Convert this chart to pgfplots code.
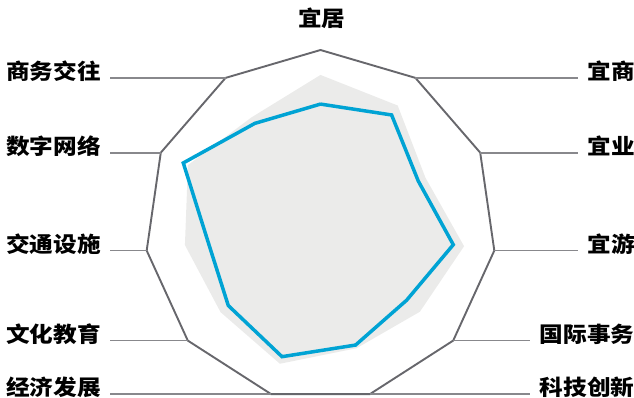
\documentclass[border=0pt]{standalone}
\usepackage{fontspec}
\usepackage{pgfplots}
\pgfplotsset{compat=1.18}
\usepgfplotslibrary{polar}
\usetikzlibrary{calc}
\newfontfamily\cjk{Noto Sans CJK SC}
\definecolor{linecol}{HTML}{00A3D4}
\definecolor{areacol}{HTML}{EBEBEA}
\definecolor{framecol}{HTML}{67676C}
\definecolor{leadcol}{HTML}{88888C}

\begin{document}
\begin{tikzpicture}[
    lab/.style={font=\cjk\bfseries\fontsize{21.5bp}{22bp}\selectfont, inner sep=0pt, xscale=1.1, text=black},
    lead/.style={leadcol, line width=1.8bp},
]
\begin{polaraxis}[
    scale only axis,
    width=351.2bp, height=351.2bp,
    ymin=0, ymax=1,
    hide axis,
    clip=false,
]
% outer frame (11 axes, clockwise from top)
\addplot[framecol, line width=1.9bp, mark=none] coordinates {
    (90,1) (57.273,1) (24.545,1) (-8.182,1) (-40.909,1) (-73.636,1)
    (-106.364,1) (-139.091,1) (-171.818,1) (-204.545,1) (-237.273,1) (90,1)
};
% grey area
\addplot[draw=none, fill=areacol, mark=none] coordinates {
    (90,0.858) (57.273,0.813) (24.545,0.657) (-8.182,0.826) (-40.909,0.749) (-73.636,0.728)
    (-106.364,0.820) (-139.091,0.753) (-171.818,0.780) (-204.545,0.830) (-237.273,0.731) (90,0.858)
};
% blue line
\addplot[linecol, line width=3.5bp, mark=none] coordinates {
    (90,0.692) (57.273,0.749) (24.545,0.612) (-8.182,0.764) (-40.909,0.649) (-73.636,0.709)
    (-106.364,0.778) (-139.091,0.695) (-171.818,0.647) (-204.545,0.859) (-237.273,0.692) (90,0.692)
};
\coordinate (C) at (axis cs:0,0);
\coordinate (v1) at (axis cs:57.273,1);
\coordinate (v2) at (axis cs:24.545,1);
\coordinate (v3) at (axis cs:-8.182,1);
\coordinate (v4) at (axis cs:-40.909,1);
\coordinate (v5) at (axis cs:-73.636,1);
\coordinate (v6) at (axis cs:-106.364,1);
\coordinate (v7) at (axis cs:-139.091,1);
\coordinate (v8) at (axis cs:-171.818,1);
\coordinate (v9) at (axis cs:-204.545,1);
\coordinate (v10) at (axis cs:-237.273,1);
\end{polaraxis}

\coordinate (L) at ($(C)+(-210.5bp,0)$);
\coordinate (R1) at ($(C)+(257.5bp,0)$);
\coordinate (R2) at ($(C)+(209.5bp,0)$);

% leader lines
\foreach \v in {v6,v7,v8,v9,v10}
    \draw[lead] (\v) -- (\v -| L);
\foreach \v in {v1,v2,v3}
    \draw[lead] (\v) -- (\v -| R1);
\foreach \v in {v4,v5}
    \draw[lead] (\v) -- (\v -| R2);

% labels
\node[lab, anchor=base] at ($(C)+(1.2bp,198.6bp)$) {宜居};
\node[lab, anchor=base west] at ($(v1 -| R1)+(9.5bp,-1.5bp)$) {宜商};
\node[lab, anchor=base west] at ($(v2 -| R1)+(9.5bp,-1.5bp)$) {宜业};
\node[lab, anchor=base west] at ($(v3 -| R1)+(9.5bp,-1.5bp)$) {宜游};
\node[lab, anchor=base west] at ($(v4 -| R2)+(9.5bp,-1.5bp)$) {国际事务};
\node[lab, anchor=base west] at ($(v5 -| R2)+(9.5bp,-1.5bp)$) {科技创新};
\node[lab, anchor=base east] at ($(v6 -| L)+(-9bp,-1.5bp)$) {经济发展};
\node[lab, anchor=base east] at ($(v7 -| L)+(-9bp,-1.5bp)$) {文化教育};
\node[lab, anchor=base east] at ($(v8 -| L)+(-9bp,-1.5bp)$) {交通设施};
\node[lab, anchor=base east] at ($(v9 -| L)+(-9bp,-1.5bp)$) {数字网络};
\node[lab, anchor=base east] at ($(v10 -| L)+(-9bp,-1.5bp)$) {商务交往};

\pgfresetboundingbox
\path[use as bounding box] ($(C)+(-320.5bp,-172.4bp)$) rectangle ($(C)+(313.5bp,225.6bp)$);
\end{tikzpicture}
\end{document}
